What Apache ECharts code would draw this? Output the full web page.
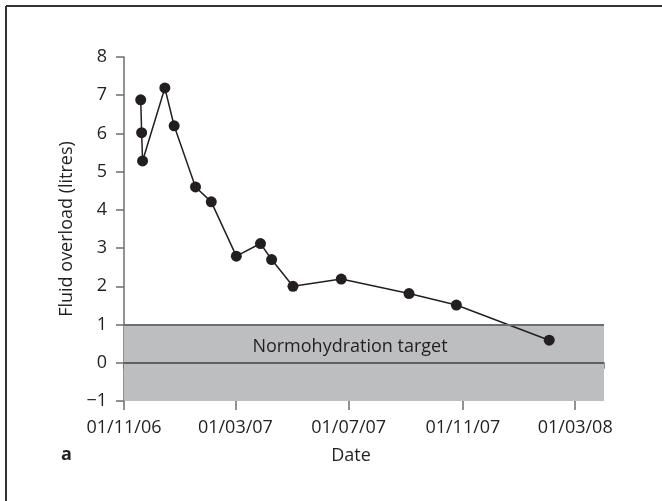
<!DOCTYPE html>
<html>
<head>
<meta charset="utf-8">
<script src="https://cdn.jsdelivr.net/npm/echarts@6/dist/echarts.min.js"></script>
<style>
  html, body { margin: 0; padding: 0; background: #fff; }
  #chart { width: 662px; height: 501px; }
</style>
</head>
<body>
<div id="chart"></div>
<script>
// measurement dates and fluid overload (litres)
const dates = ['2006-11-19', '2006-11-20', '2006-11-21', '2006-12-15', '2006-12-25', '2007-01-17', '2007-02-03',
  '2007-03-02', '2007-03-28', '2007-04-09', '2007-05-02', '2007-06-23', '2007-09-04', '2007-10-25', '2008-02-02'];
const overload = [6.88, 6.02, 5.28, 7.19, 6.2, 4.6, 4.21, 2.79, 3.12, 2.7, 2.0, 2.19, 1.81, 1.51, 0.59];

// monthly ticks, labels every 4 months
const tickDates = ['2006-11-01', '2006-12-01', '2007-01-01', '2007-02-01', '2007-03-01', '2007-04-01', '2007-05-01',
  '2007-06-01', '2007-07-01', '2007-08-01', '2007-09-01', '2007-10-01', '2007-11-01', '2007-12-01', '2008-01-01',
  '2008-02-01', '2008-03-01', '2008-04-01'];
const labelDates = ['2006-11-01', '2007-03-01', '2007-07-01', '2007-11-01', '2008-03-01'];
const targetBand = [-1, 1];

const FONT = 'Open Sans';
const INK = '#231f20';

const toTime = s => {
  const [y, m, d] = s.split('-').map(Number);
  return new Date(y, m - 1, d).getTime();
};
const pad = n => (n < 10 ? '0' : '') + n;
const fmtDate = v => {
  const d = new Date(v);
  return pad(d.getDate()) + '/' + pad(d.getMonth() + 1) + '/' + String(d.getFullYear()).slice(2);
};

const xMin = toTime(tickDates[0]);
const xMax = toTime(tickDates[tickDates.length - 1]);

const chart = echarts.init(document.getElementById('chart'));

chart.setOption({
  animation: false,
  grid: { left: 124, right: 58, top: 57, bottom: 100 },
  xAxis: [
    {
      type: 'value',
      min: xMin,
      max: xMax,
      name: 'Date',
      nameLocation: 'middle',
      nameGap: 46,
      nameTextStyle: { fontFamily: FONT, fontSize: 18, color: INK, padding: [0, 26, 0, 0] },
      axisLine: { lineStyle: { color: '#6d6e71', width: 1.5 } },
      axisTick: { show: true, customValues: tickDates.map(toTime), length: 6, lineStyle: { color: '#6d6e71', width: 1.5 } },
      axisLabel: {
        customValues: labelDates.map(toTime),
        formatter: fmtDate,
        margin: 18,
        fontFamily: FONT, fontSize: 18, color: INK
      },
      splitLine: { show: false }
    },
    {
      // longer ticks under the labelled months
      type: 'value',
      position: 'bottom',
      min: xMin,
      max: xMax,
      axisLine: { show: false },
      axisTick: { show: true, customValues: labelDates.map(toTime), length: 9, lineStyle: { color: '#6d6e71', width: 1.5 } },
      axisLabel: { show: false },
      splitLine: { show: false }
    }
  ],
  yAxis: {
    type: 'value',
    min: -1,
    max: 8,
    interval: 1,
    name: 'Fluid overload (litres)',
    nameLocation: 'middle',
    nameGap: 44,
    nameTextStyle: { fontFamily: FONT, fontSize: 18, color: INK },
    axisLine: { show: true, lineStyle: { color: '#6d6e71', width: 1.5 } },
    axisTick: { show: true, length: 8, lineStyle: { color: '#6d6e71', width: 1.5 } },
    axisLabel: {
      formatter: v => String(v).replace('-', '\u2212'),
      margin: 17,
      fontFamily: FONT, fontSize: 18, color: INK
    },
    splitLine: { show: false }
  },
  series: [
    {
      type: 'line',
      data: [],
      z: 1,
      silent: true,
      markArea: {
        silent: true,
        itemStyle: { color: '#bcbec0' },
        label: {
          show: true,
          position: 'inside',
          offset: [-14, -16],
          fontFamily: FONT, fontSize: 18, color: INK
        },
        data: [[{ name: 'Normohydration target', yAxis: targetBand[0] }, { yAxis: targetBand[1] }]]
      },
      markLine: {
        silent: true,
        symbol: 'none',
        label: { show: false },
        data: [
          { yAxis: 1, lineStyle: { color: '#6d6e71', width: 2, type: 'solid' } },
          { yAxis: 0, lineStyle: { color: '#414042', width: 1.5, type: 'solid' } }
        ]
      }
    },
    {
      type: 'line',
      z: 3,
      data: dates.map((d, i) => [toTime(d), overload[i]]),
      symbol: 'circle',
      symbolSize: 11,
      lineStyle: { color: INK, width: 1.5 },
      itemStyle: { color: INK }
    }
  ],
  graphic: [
    { type: 'line', shape: { x1: 6, y1: 6, x2: 662, y2: 6 }, style: { stroke: '#333', lineWidth: 2 } },
    { type: 'line', shape: { x1: 6, y1: 6, x2: 6, y2: 501 }, style: { stroke: '#333', lineWidth: 2 } },
    {
      type: 'text', x: 61, y: 455,
      style: { text: 'a', fontFamily: FONT, fontSize: 18, fontWeight: 'bold', fill: INK, textVerticalAlign: 'middle' }
    }
  ]
});
</script>
</body>
</html>
